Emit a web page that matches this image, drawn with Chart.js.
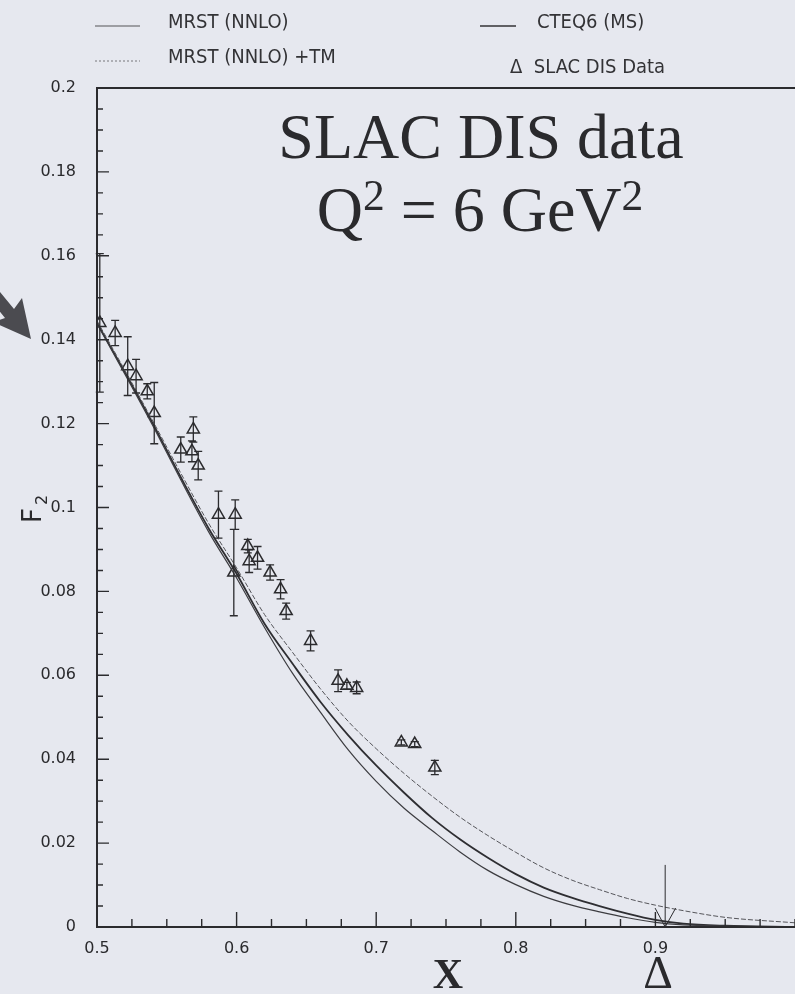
<!DOCTYPE html>
<html>
<head>
<meta charset="utf-8">
<script src="https://cdn.jsdelivr.net/npm/chart.js@4.4.0/dist/chart.umd.min.js"></script>
<style>
    html, body { margin: 0; padding: 0; background: #e6e8ef; overflow: hidden; }
    #wrap { position: relative; width: 795px; height: 994px; overflow: hidden; }
    #f2-chart { display: block; }
</style>
</head>
<body>
<div id="wrap"><canvas id="f2-chart" width="795" height="994"></canvas></div>
<script>
// theory curves, sampled along x
const curveX = [0.50, 0.52, 0.54, 0.56, 0.58, 0.60, 0.62, 0.64, 0.66, 0.68, 0.70, 0.72,
    0.74, 0.76, 0.78, 0.80, 0.82, 0.84, 0.86, 0.88, 0.90, 0.92, 0.95, 1.00];
const mrstNnlo = [0.1438, 0.1318, 0.1195, 0.1066, 0.0942, 0.0832, 0.0714, 0.0605, 0.0512, 0.0422, 0.0347, 0.0283,
    0.0230, 0.0179, 0.0135, 0.0101, 0.0073, 0.0052, 0.0036, 0.0022, 0.0011, 0.0005, 0.0002, 0.0000];
const mrstNnloTm = [0.1445, 0.1327, 0.1206, 0.1082, 0.0962, 0.0856, 0.0745, 0.0655, 0.0568, 0.0490, 0.0425, 0.0366,
    0.0312, 0.0262, 0.0218, 0.0178, 0.0141, 0.0112, 0.0089, 0.0068, 0.0052, 0.0039, 0.0023, 0.0010];
const cteq6 = [0.1440, 0.1322, 0.1200, 0.1072, 0.0950, 0.0842, 0.0723, 0.0628, 0.0537, 0.0457, 0.0385, 0.0320,
    0.0260, 0.0209, 0.0165, 0.0126, 0.0094, 0.0070, 0.0050, 0.0032, 0.0017, 0.0008, 0.0003, 0.0000];

// SLAC DIS data points
const slacX = [0.502, 0.513, 0.522, 0.528, 0.536, 0.541, 0.560, 0.569, 0.568, 0.5725, 0.587, 0.599, 0.598,
    0.608, 0.609, 0.615, 0.624, 0.6315, 0.6355, 0.653, 0.6727, 0.679, 0.686, 0.718, 0.7276, 0.742];
const slacF2 = [0.1440, 0.1416, 0.1337, 0.1313, 0.1277, 0.1225, 0.1138, 0.1186, 0.1134, 0.1100, 0.0983, 0.0983, 0.0845,
    0.0908, 0.0872, 0.0880, 0.0845, 0.0805, 0.0753, 0.0682, 0.0587, 0.0575, 0.0570, 0.0440, 0.0436, 0.0380];
const slacErr = [0.0165, 0.0030, 0.0070, 0.0040, 0.0018, 0.0073, 0.0030, 0.0030, 0.0025, 0.0034, 0.0056, 0.0035, 0.0103,
    0.0016, 0.0027, 0.0027, 0.0018, 0.0023, 0.0019, 0.0024, 0.0026, 0.0008, 0.0014, 0.0006, 0.0006, 0.0017];

const xTickLabels = [0.5, 0.6, 0.7, 0.8, 0.9];
const yTickLabels = [0, 0.02, 0.04, 0.06, 0.08, 0.1, 0.12, 0.14, 0.16, 0.18, 0.2];
const xMinorStep = 0.025;
const yMinorStep = 0.005;
const deltaX = 0.907;

const INK = '#2b2b2e';
const LEGEND_FONT = '"DejaVu Sans Condensed", "Liberation Sans Narrow", "DejaVu Sans", sans-serif';

function isLabel(value, list) {
    return list.some((v) => Math.abs(v - value) < 1e-6);
}

function stepTicks(scale, step) {
    const ticks = [];
    const n = Math.round((scale.max - scale.min) / step);
    for (let i = 0; i <= n; i++) {
        ticks.push({ value: +(scale.min + i * step).toFixed(4) });
    }
    scale.ticks = ticks;
}

const inwardTicks = {
    id: 'inwardTicks',
    afterDraw(chart) {
        const { ctx, chartArea, scales } = chart;
        const { left, right, top, bottom } = chartArea;
        ctx.save();
        ctx.strokeStyle = INK;
        ctx.lineWidth = 1.4;
        ctx.beginPath();
        scales.x.ticks.forEach((t) => {
            const px = scales.x.getPixelForValue(t.value);
            const len = isLabel(t.value, xTickLabels) ? 15 : 8;
            ctx.moveTo(px, bottom);
            ctx.lineTo(px, bottom - len);
        });
        scales.y.ticks.forEach((t) => {
            const py = scales.y.getPixelForValue(t.value);
            const len = isLabel(t.value, yTickLabels) ? 12 : 6;
            ctx.moveTo(left, py);
            ctx.lineTo(left + len, py);
        });
        ctx.stroke();

        ctx.lineWidth = 2;
        ctx.beginPath();
        ctx.moveTo(right + 2, top);
        ctx.lineTo(left, top);
        ctx.lineTo(left, bottom);
        ctx.lineTo(right + 2, bottom);
        ctx.stroke();
        ctx.restore();
    },
};

const errorBars = {
    id: 'errorBars',
    afterDatasetsDraw(chart) {
        const { ctx, scales } = chart;
        ctx.save();
        ctx.strokeStyle = INK;
        ctx.lineWidth = 1.3;
        ctx.beginPath();
        slacX.forEach((x, i) => {
            const px = scales.x.getPixelForValue(x);
            const yTop = scales.y.getPixelForValue(slacF2[i] + slacErr[i]);
            const yBot = scales.y.getPixelForValue(slacF2[i] - slacErr[i]);
            ctx.moveTo(px, yTop);
            ctx.lineTo(px, yBot);
            ctx.moveTo(px - 4, yTop);
            ctx.lineTo(px + 4, yTop);
            ctx.moveTo(px - 4, yBot);
            ctx.lineTo(px + 4, yBot);
        });
        ctx.stroke();

        // threshold marker at x = Delta
        const mx = scales.x.getPixelForValue(deltaX);
        const my0 = scales.y.getPixelForValue(0);
        ctx.lineWidth = 1;
        ctx.beginPath();
        ctx.moveTo(mx, scales.y.getPixelForValue(0.0148));
        ctx.lineTo(mx, my0);
        ctx.moveTo(scales.x.getPixelForValue(deltaX - 0.0072), scales.y.getPixelForValue(0.0045));
        ctx.lineTo(mx, my0);
        ctx.lineTo(scales.x.getPixelForValue(deltaX + 0.0075), scales.y.getPixelForValue(0.0045));
        ctx.stroke();
        ctx.restore();
    },
};

function drawRuns(ctx, runs, cx, baseline, size, family) {
    const parts = runs.map((r) => {
        const fs = r.sup ? size * 0.68 : size;
        ctx.font = fs + 'px ' + family;
        return { text: r.text, sup: r.sup, font: ctx.font, w: ctx.measureText(r.text).width };
    });
    const total = parts.reduce((s, p) => s + p.w, 0);
    let x = cx - total / 2;
    parts.forEach((p) => {
        ctx.font = p.font;
        ctx.fillText(p.text, x, p.sup ? baseline - size * 0.33 : baseline);
        x += p.w;
    });
}

const annotations = {
    id: 'annotations',
    afterDraw(chart) {
        const { ctx } = chart;
        ctx.save();
        ctx.fillStyle = '#2a2a2d';
        ctx.textAlign = 'left';
        ctx.textBaseline = 'alphabetic';

        // big title inside the frame
        const serif = '"Liberation Serif", "Times New Roman", serif';
        drawRuns(ctx, [{ text: 'SLAC DIS data' }], 481, 158, 64, serif);
        drawRuns(ctx, [{ text: 'Q' }, { text: '2', sup: true }, { text: ' = 6 GeV' }, { text: '2', sup: true }],
            480, 231, 64, serif);

        // legend
        ctx.font = '20px ' + LEGEND_FONT;
        ctx.textBaseline = 'middle';
        ctx.fillStyle = '#333336';
        ctx.fillText('MRST (NNLO)', 168, 23);
        ctx.fillText('MRST (NNLO) +TM', 168, 58);
        ctx.fillText('CTEQ6 (MS)', 537, 23);
        ctx.fillText('\u0394  SLAC DIS Data', 510, 68);

        ctx.strokeStyle = '#555558';
        ctx.lineWidth = 1.2;
        ctx.beginPath();
        ctx.moveTo(95, 26);
        ctx.lineTo(140, 26);
        ctx.stroke();
        ctx.strokeStyle = '#333336';
        ctx.lineWidth = 1.6;
        ctx.beginPath();
        ctx.moveTo(480, 26);
        ctx.lineTo(516, 26);
        ctx.stroke();
        ctx.strokeStyle = '#77777a';
        ctx.lineWidth = 1;
        ctx.setLineDash([2, 2]);
        ctx.beginPath();
        ctx.moveTo(95, 61);
        ctx.lineTo(140, 61);
        ctx.stroke();
        ctx.setLineDash([]);

        // axis titles
        ctx.fillStyle = '#2a2a2d';
        ctx.textBaseline = 'alphabetic';
        ctx.textAlign = 'center';
        ctx.font = 'bold 42px ' + serif;
        ctx.fillText('X', 448, 988);
        ctx.font = '46px ' + serif;
        ctx.fillText('\u0394', 658, 988);

        ctx.save();
        ctx.translate(41, 514);
        ctx.rotate(-Math.PI / 2);
        ctx.textAlign = 'left';
        ctx.font = '26px "DejaVu Sans", sans-serif';
        ctx.fillText('F', -9, 0);
        ctx.font = '16px "DejaVu Sans", sans-serif';
        ctx.fillText('2', 9, 6);
        ctx.restore();

        // grey pointer arrow at the left margin
        ctx.fillStyle = '#4b4b50';
        ctx.beginPath();
        ctx.moveTo(31, 339);
        ctx.lineTo(22, 298);
        ctx.lineTo(14, 309);
        ctx.lineTo(-10, 280);
        ctx.lineTo(-19, 288);
        ctx.lineTo(5, 318);
        ctx.lineTo(-7, 322);
        ctx.closePath();
        ctx.fill();
        ctx.restore();
    },
};

function createF2Chart(canvas) {
    const curve = (values) => curveX.map((x, i) => ({ x, y: values[i] }));
    return new Chart(canvas, {
        type: 'line',
        data: {
            datasets: [
                {
                    label: 'MRST (NNLO)',
                    data: curve(mrstNnlo),
                    borderColor: '#3c3c40',
                    borderWidth: 1.2,
                    pointRadius: 0,
                    cubicInterpolationMode: 'monotone',
                },
                {
                    label: 'MRST (NNLO) +TM',
                    data: curve(mrstNnloTm),
                    borderColor: '#55555a',
                    borderWidth: 1,
                    borderDash: [5, 2],
                    pointRadius: 0,
                    cubicInterpolationMode: 'monotone',
                },
                {
                    label: 'CTEQ6 (MS)',
                    data: curve(cteq6),
                    borderColor: '#2e2e32',
                    borderWidth: 1.8,
                    pointRadius: 0,
                    cubicInterpolationMode: 'monotone',
                },
                {
                    label: 'SLAC DIS Data',
                    data: slacX.map((x, i) => ({ x, y: slacF2[i] })),
                    showLine: false,
                    pointStyle: 'triangle',
                    pointRadius: 7,
                    pointBorderWidth: 1.5,
                    pointBorderColor: INK,
                    pointBackgroundColor: 'rgba(0,0,0,0)',
                },
            ],
        },
        options: {
            responsive: false,
            animation: false,
            layout: {
                autoPadding: false,
                padding: { top: 88, left: 0, right: 0, bottom: 0 },
            },
            plugins: {
                legend: { display: false },
                tooltip: { enabled: false },
            },
            scales: {
                x: {
                    type: 'linear',
                    min: 0.5,
                    max: 1.0,
                    afterBuildTicks: (scale) => stepTicks(scale, xMinorStep),
                    afterFit: (scale) => {
                        scale.height = 67;
                        scale.paddingRight = 0;
                        scale.paddingLeft = 0;
                    },
                    grid: { display: false },
                    border: { display: false },
                    ticks: {
                        autoSkip: false,
                        maxRotation: 0,
                        padding: 4,
                        color: '#2a2a2d',
                        font: { family: '"DejaVu Sans", sans-serif', size: 16 },
                        callback: (v) => (isLabel(v, xTickLabels) ? String(+v.toFixed(3)) : ''),
                    },
                },
                y: {
                    type: 'linear',
                    min: 0,
                    max: 0.2,
                    afterBuildTicks: (scale) => stepTicks(scale, yMinorStep),
                    afterFit: (scale) => { scale.width = 97; },
                    grid: { display: false },
                    border: { display: false },
                    ticks: {
                        autoSkip: false,
                        padding: 13,
                        color: '#2a2a2d',
                        font: { family: '"DejaVu Sans", sans-serif', size: 16 },
                        callback: (v) => (isLabel(v, yTickLabels) ? String(+v.toFixed(3)) : ''),
                    },
                },
            },
        },
        plugins: [inwardTicks, errorBars, annotations],
    });
}

document.addEventListener('DOMContentLoaded', () => {
    const canvas = document.getElementById('f2-chart');
    if (canvas) {
        createF2Chart(canvas);
    }
});
</script>
</body>
</html>
